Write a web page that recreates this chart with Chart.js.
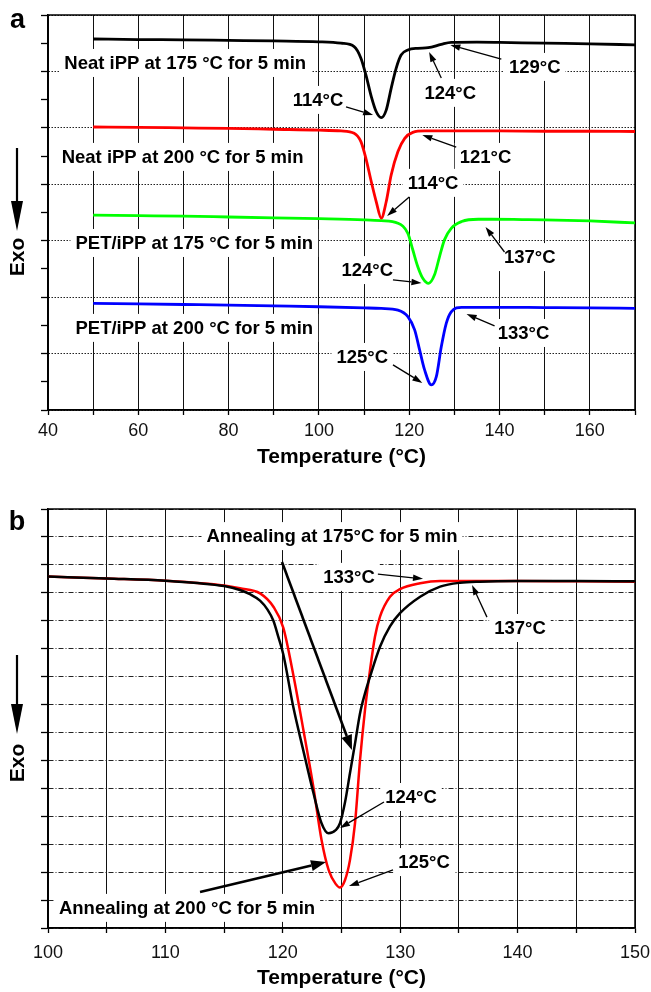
<!DOCTYPE html>
<html>
<head>
<meta charset="utf-8">
<script src="https://cdn.jsdelivr.net/npm/chart.js@4.4.1/dist/chart.umd.min.js"></script>
<style>
  html, body { margin: 0; padding: 0; background: #fff; }
  #wrap { position: relative; width: 651px; height: 992px; }
  canvas { position: absolute; left: 0; }
  #chartA { top: 0; }
  #chartB { top: 470px; }
</style>
</head>
<body>
<div id="wrap">
  <canvas id="chartA" width="651" height="470"></canvas>
  <canvas id="chartB" width="651" height="522"></canvas>
</div>
<script>
const FONT = "'Liberation Sans', Arial, Helvetica, sans-serif";

// ---- panel a: cooling curves, y in grid units (curves offset vertically) ----
const neat175Temp = [50, 60, 70, 80, 90, 100, 104.9, 107.8, 109.3, 110.4, 111.6, 112.7, 113.8, 114.9, 116, 117.1, 118.2, 119.7, 121.9, 124.2, 127.1, 129.3, 135, 140, 150, 160, 170];
const neat175Heat = [13.15, 13.13, 13.12, 13.10, 13.08, 13.05, 13.0, 12.88, 12.47, 11.88, 11.11, 10.57, 10.36, 10.63, 11.4, 12.11, 12.58, 12.76, 12.82, 12.84, 12.96, 13.03, 13.04, 13.03, 13.0, 12.98, 12.94];

const neat200Temp = [50, 60, 70, 80, 90, 100, 104.9, 107.8, 109.3, 110.4, 111.6, 112.7, 113.8, 114.9, 116, 117.5, 119, 120.8, 123.4, 130, 140, 150, 160, 170];
const neat200Heat = [10.03, 10.02, 10.0, 9.98, 9.95, 9.92, 9.89, 9.81, 9.51, 8.92, 8.09, 7.38, 6.8, 7.38, 8.33, 9.16, 9.63, 9.84, 9.89, 9.89, 9.89, 9.88, 9.88, 9.87];

const pet175Temp = [50, 60, 70, 80, 90, 100, 110, 113.8, 117.5, 119.7, 120.8, 121.9, 123, 124.3, 125.6, 126.7, 127.8, 129.3, 131.6, 135.3, 138.2, 145, 150, 160, 170];
const pet175Heat = [6.91, 6.89, 6.87, 6.84, 6.81, 6.78, 6.74, 6.71, 6.62, 6.26, 5.67, 5.08, 4.67, 4.49, 4.79, 5.43, 6.03, 6.44, 6.68, 6.76, 6.76, 6.75, 6.74, 6.7, 6.63];

const pet200Temp = [50, 60, 70, 80, 90, 100, 110, 113.8, 117.5, 119.7, 121.2, 122.3, 123.4, 124.9, 126, 127.1, 128.2, 129.3, 131.6, 138, 150, 160, 170];
const pet200Heat = [3.78, 3.76, 3.74, 3.72, 3.69, 3.66, 3.62, 3.6, 3.54, 3.31, 2.84, 2.13, 1.42, 0.89, 1.18, 2.24, 3.07, 3.48, 3.64, 3.64, 3.63, 3.62, 3.6];

// ---- panel b: PET/iPP annealed ----
const anneal175Temp = [100, 105, 110, 115, 116.35, 117.2, 118.06, 118.7, 119.2, 119.6, 120.04, 120.9, 121.75, 122.6, 123.3, 123.9, 124.5, 124.87, 125.3, 125.72, 126.15, 126.58, 127.0, 127.43, 128.28, 129.13, 129.98, 131.7, 133.4, 135.1, 136.8, 140, 145, 150];
const anneal175Heat = [12.58, 12.51, 12.43, 12.24, 12.1, 11.95, 11.72, 11.4, 11.0, 10.45, 9.8, 7.9, 6.35, 4.85, 3.75, 3.39, 3.5, 3.75, 4.5, 5.54, 6.6, 7.69, 8.4, 9.0, 10.07, 10.8, 11.27, 11.86, 12.22, 12.36, 12.4, 12.42, 12.42, 12.41];

const anneal200Temp = [100, 105, 110, 115, 116.35, 118.06, 119.2, 120.04, 120.9, 121.75, 122.6, 123.3, 123.9, 124.5, 124.87, 125.3, 125.72, 126.15, 126.58, 127.0, 127.43, 127.85, 128.28, 129.13, 129.98, 131.7, 133.4, 140, 145, 150];
const anneal200Heat = [12.58, 12.51, 12.43, 12.26, 12.16, 11.98, 11.5, 10.75, 9.05, 7.1, 5.06, 3.15, 2.08, 1.58, 1.45, 1.72, 2.43, 3.75, 6.02, 7.8, 9.24, 10.43, 11.15, 11.86, 12.13, 12.34, 12.42, 12.42, 12.41, 12.4];

// annotations in data units: label centre, arrow start, arrow tip
const notesA = [
  { text: 'Neat iPP at 175 °C for 5 min', at: [70.4, 12.3] },
  { text: '114°C', at: [99.8, 10.99], from: [106.0, 10.74], to: [112.0, 10.46] },
  { text: '124°C', at: [129.1, 11.24], from: [127.1, 11.77], to: [124.4, 12.69] },
  { text: '129°C', at: [147.8, 12.16], from: [140.4, 12.44], to: [129.1, 12.94] },
  { text: 'Neat iPP at 200 °C for 5 min', at: [69.8, 8.97] },
  { text: '121°C', at: [136.9, 8.97], from: [130.4, 9.32], to: [122.9, 9.75] },
  { text: '114°C', at: [125.3, 8.05], from: [120.0, 7.55], to: [115.1, 6.88] },
  { text: 'PET/iPP at 175 °C for 5 min', at: [72.4, 5.92] },
  { text: '124°C', at: [110.7, 4.96], from: [116.4, 4.61], to: [122.7, 4.5] },
  { text: '137°C', at: [146.7, 5.42], from: [141.1, 5.6], to: [136.9, 6.49] },
  { text: 'PET/iPP at 200 °C for 5 min', at: [72.4, 2.91] },
  { text: '133°C', at: [145.3, 2.73], from: [138.9, 2.98], to: [132.7, 3.4] },
  { text: '125°C', at: [109.6, 1.88], from: [116.4, 1.6], to: [122.9, 0.96] },
];

const notesB = [
  { text: 'Annealing at 175°C for 5 min', at: [124.19, 14.03], from: [119.93, 13.1], to: [125.89, 6.37], bold: true },
  { text: '133°C', at: [125.64, 12.57], from: [128.1, 12.67], to: [131.94, 12.5] },
  { text: '137°C', at: [140.2, 10.74], from: [137.39, 11.13], to: [136.12, 12.28] },
  { text: '124°C', at: [130.92, 4.69], from: [128.62, 4.51], to: [124.87, 3.58] },
  { text: '125°C', at: [132.03, 2.36], from: [129.39, 2.08], to: [125.64, 1.5] },
  { text: 'Annealing at 200 °C for 5 min', at: [111.84, 0.72], from: [112.95, 1.29], to: [123.68, 2.36], bold: true },
];

function series(temps, vals, color, width) {
  return {
    data: temps.map((t, i) => ({ x: t, y: vals[i] })),
    borderColor: color,
    borderWidth: width,
    pointRadius: 0,
    fill: false,
    cubicInterpolationMode: 'monotone',
  };
}

function arrow(ctx, x1, y1, x2, y2, lw, hl, hw) {
  const ang = Math.atan2(y2 - y1, x2 - x1);
  const bx = x2 - hl * Math.cos(ang), by = y2 - hl * Math.sin(ang);
  ctx.lineWidth = lw;
  ctx.beginPath(); ctx.moveTo(x1, y1); ctx.lineTo(bx, by); ctx.stroke();
  ctx.beginPath();
  ctx.moveTo(x2, y2);
  ctx.lineTo(bx + hw * Math.sin(ang), by - hw * Math.cos(ang));
  ctx.lineTo(bx - hw * Math.sin(ang), by + hw * Math.cos(ang));
  ctx.closePath(); ctx.fill();
}

// labels with white boxes, arrows, frame, "Exo" marker and panel letter
const dscDecor = {
  id: 'dscDecor',
  beforeDatasetsDraw(chart, args, opts) {
    const { ctx, chartArea: a, scales: { x, y } } = chart;
    ctx.save();
    ctx.font = `bold ${opts.fontSize}px ${FONT}`;
    ctx.textAlign = 'center';
    ctx.textBaseline = 'middle';
    for (const n of opts.notes) {
      const px = x.getPixelForValue(n.at[0]), py = y.getPixelForValue(n.at[1]);
      const w = ctx.measureText(n.text).width + 10;
      ctx.fillStyle = '#fff';
      ctx.fillRect(px - w / 2, py - 14, w, 28);
      ctx.fillStyle = '#000';
      ctx.fillText(n.text, px, py + 1);
    }
    ctx.strokeStyle = '#000';
    ctx.lineWidth = 1.5;
    ctx.strokeRect(a.left, a.top, a.right - a.left, a.bottom - a.top);
    ctx.restore();
  },
  afterDatasetsDraw(chart, args, opts) {
    const { ctx, scales: { x, y } } = chart;
    ctx.save();
    ctx.strokeStyle = '#000';
    ctx.fillStyle = '#000';
    for (const n of opts.notes) {
      if (!n.from) continue;
      const x1 = x.getPixelForValue(n.from[0]), y1 = y.getPixelForValue(n.from[1]);
      const x2 = x.getPixelForValue(n.to[0]), y2 = y.getPixelForValue(n.to[1]);
      if (n.bold) arrow(ctx, x1, y1, x2, y2, 2.6, 15, 5.5);
      else arrow(ctx, x1, y1, x2, y2, 1.3, 10, 3.2);
    }
    ctx.restore();
  },
  afterDraw(chart, args, opts) {
    const { ctx } = chart;
    const e = opts.exo;
    ctx.save();
    ctx.fillStyle = '#000';
    ctx.strokeStyle = '#000';
    arrow(ctx, e.x, e.top, e.x, e.tip, 2.2, 30, 6);
    ctx.translate(e.x + 1, e.textY);
    ctx.rotate(-Math.PI / 2);
    ctx.font = `bold 21px ${FONT}`;
    ctx.textAlign = 'center';
    ctx.textBaseline = 'middle';
    ctx.fillText('Exo', 0, 0);
    ctx.restore();

    ctx.save();
    ctx.fillStyle = '#000';
    ctx.font = `bold 27px ${FONT}`;
    ctx.textAlign = 'center';
    ctx.textBaseline = 'alphabetic';
    ctx.fillText(opts.letter.text, opts.letter.x, opts.letter.y);
    ctx.restore();
  },
};

function makeChart(id, cfg) {
  return new Chart(document.getElementById(id), {
    type: 'line',
    data: { datasets: cfg.datasets },
    options: {
      responsive: false,
      animation: false,
      events: [],
      layout: { padding: { top: cfg.top, right: 16, left: 0, bottom: 0 } },
      plugins: {
        legend: { display: false },
        tooltip: { enabled: false },
        dscDecor: { notes: cfg.notes, fontSize: 18.5, exo: cfg.exo, letter: cfg.letter },
      },
      scales: {
        x: {
          type: 'linear',
          min: cfg.xMin, max: cfg.xMax,
          afterFit: s => { s.height = cfg.xHeight; s.paddingLeft = 0; s.paddingRight = 0; },
          ticks: {
            stepSize: cfg.xStep, autoSkip: false, maxRotation: 0, padding: cfg.labelPad,
            color: '#111', font: { family: FONT, size: 18 },
            callback: v => (v % cfg.xLabelEvery === 0 ? v : ''),
          },
          grid: { color: '#111', lineWidth: 1, tickLength: 5, tickColor: '#000', tickWidth: 1.3 },
          border: { color: '#000', width: 1.5 },
          title: {
            display: true, text: 'Temperature (°C)', color: '#000',
            font: { family: FONT, size: 21, weight: 'bold' },
            padding: { top: 0, bottom: cfg.titlePad },
          },
        },
        y: {
          min: 0, max: cfg.yMax,
          afterFit: s => { s.width = 48; },
          ticks: { stepSize: 1, autoSkip: false, callback: () => '' },
          grid: {
            color: c => (c.tick && c.tick.value % cfg.yGridEvery === 0 ? '#222' : 'rgba(0,0,0,0)'),
            lineWidth: 1, tickLength: 7, tickColor: '#000', tickWidth: 1.3,
          },
          border: { color: '#000', width: 1.5, dash: cfg.yDash },
        },
      },
    },
    plugins: [dscDecor],
  });
}

makeChart('chartA', {
  datasets: [
    series(neat175Temp, neat175Heat, '#000000', 2.8),
    series(neat200Temp, neat200Heat, '#ff0000', 2.8),
    series(pet175Temp, pet175Heat, '#00ff00', 2.8),
    series(pet200Temp, pet200Heat, '#0000ff', 2.8),
  ],
  notes: notesA,
  top: 15, xHeight: 60, labelPad: 5, titlePad: 0,
  xMin: 40, xMax: 170, xStep: 10, xLabelEvery: 20,
  yMax: 14, yGridEvery: 2, yDash: [1.5, 1.5],
  exo: { x: 17, top: 148, tip: 231, textY: 257 },
  letter: { text: 'a', x: 17.5, y: 28 },
});

makeChart('chartB', {
  datasets: [
    series(anneal175Temp, anneal175Heat, '#000000', 2.5),
    series(anneal200Temp, anneal200Heat, '#ff0000', 2.5),
  ],
  notes: notesB,
  top: 39, xHeight: 64, labelPad: 9, titlePad: 1,
  xMin: 100, xMax: 150, xStep: 5, xLabelEvery: 10,
  yMax: 15, yGridEvery: 1, yDash: [5, 2, 1, 2],
  exo: { x: 17, top: 185, tip: 264, textY: 293 },
  letter: { text: 'b', x: 17, y: 60 },
});
</script>
</body>
</html>
